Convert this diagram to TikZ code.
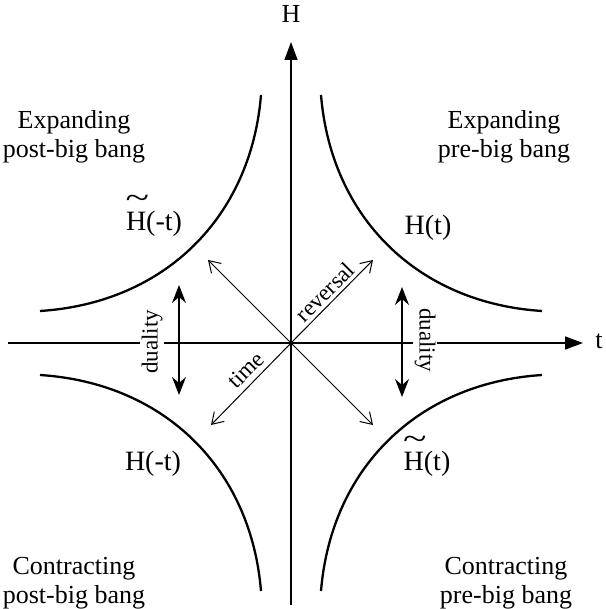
\documentclass[tikz,border=0pt]{standalone}
\usepackage{fontspec}
\usepackage{graphicx}
\setmainfont{Liberation Serif}
\usetikzlibrary{arrows.meta}
\newcommand\tildeH{\rlap{\kern-0.5pt\raisebox{21pt}{\scalebox{1.55}[1.15]{\symbol{"7E}}}}H}
\begin{document}
\begin{tikzpicture}[x=1pt,y=-1pt,
  axis/.style={line width=1.4pt},
  axishead/.style={-{Triangle[length=18pt,width=13pt]}},
  branch/.style={line width=2.3pt},
  diag/.style={line width=1pt,-{Straight Barb[length=11pt,width=14pt]}},
  dual/.style={line width=1.3pt,{Stealth[length=18pt,width=14pt,inset=6pt]}-{Stealth[length=18pt,width=14pt,inset=6pt]}},
  region/.style={align=center,font=\fontsize{26}{29}\selectfont,inner sep=0pt},
  sol/.style={font=\fontsize{28}{30}\selectfont,inner sep=0pt,anchor=base},
  small/.style={font=\fontsize{23}{25}\selectfont,inner sep=1pt},
  axlabel/.style={font=\fontsize{26}{28}\selectfont,inner sep=0pt},
]
\useasboundingbox (0,0) rectangle (605,609);
% axes
\coordinate (O) at (291,343);
\coordinate (xl) at (8,343);
\coordinate (xr) at (583,343);
\coordinate (yb) at (291,605);
\coordinate (yt) at (291,42);
\draw[axis,axishead] (xl) -- (xr);
\draw[axis,axishead] (yb) -- (yt);
\node[axlabel] (tlab) at (599,341) {t};
\node[axlabel] (Hlab) at (291,14) {H};
% branches
\foreach \sx/\sy in {1/1,-1/1,1/-1,-1/-1}
  \draw[branch,shift={(291,343)},xscale=\sx,yscale=\sy]
    (30,-248) .. controls (40,-126) and (126,-40) .. (251,-32);
% diagonal arrows
\coordinate (ne) at (373,260);
\coordinate (nw) at (208,260);
\coordinate (sw) at (211,425);
\coordinate (se) at (373,425);
\draw[diag] (O) -- (ne);
\draw[diag] (O) -- (nw);
\draw[diag] (O) -- (sw);
\draw[diag] (O) -- (se);
\node[small,rotate=45] (rev) at (325,292) {reversal};
\node[small,rotate=45] (time) at (246,370) {time};
% duality arrows
\coordinate (dlt) at (179,285);
\coordinate (dlb) at (179,395);
\coordinate (drt) at (402,287);
\coordinate (drb) at (402,397);
\draw[dual] (dlt) -- (dlb);
\draw[dual] (drt) -- (drb);
\node[small,rotate=90,fill=white,inner sep=2pt] (dl) at (152,342) {duality};
\node[small,rotate=-90,fill=white,inner sep=2pt] (dr) at (425,340) {duality};
% solution labels
\node[sol] (Ht) at (428,234) {H(t)};
\node[sol] (Htm) at (154,230) {\tildeH(-t)};
\node[sol] (Hmt) at (153,470) {H(-t)};
\node[sol] (Htt) at (427,470) {\tildeH(t)};
% region labels
\node[region] (epost) at (74,137) {Expanding\\post-big bang};
\node[region] (epre) at (504,137) {Expanding\\pre-big bang};
\node[region] (cpost) at (74,583) {Contracting\\post-big bang};
\node[region] (cpre) at (506,583) {Contracting\\pre-big bang};
\end{tikzpicture}
\end{document}
